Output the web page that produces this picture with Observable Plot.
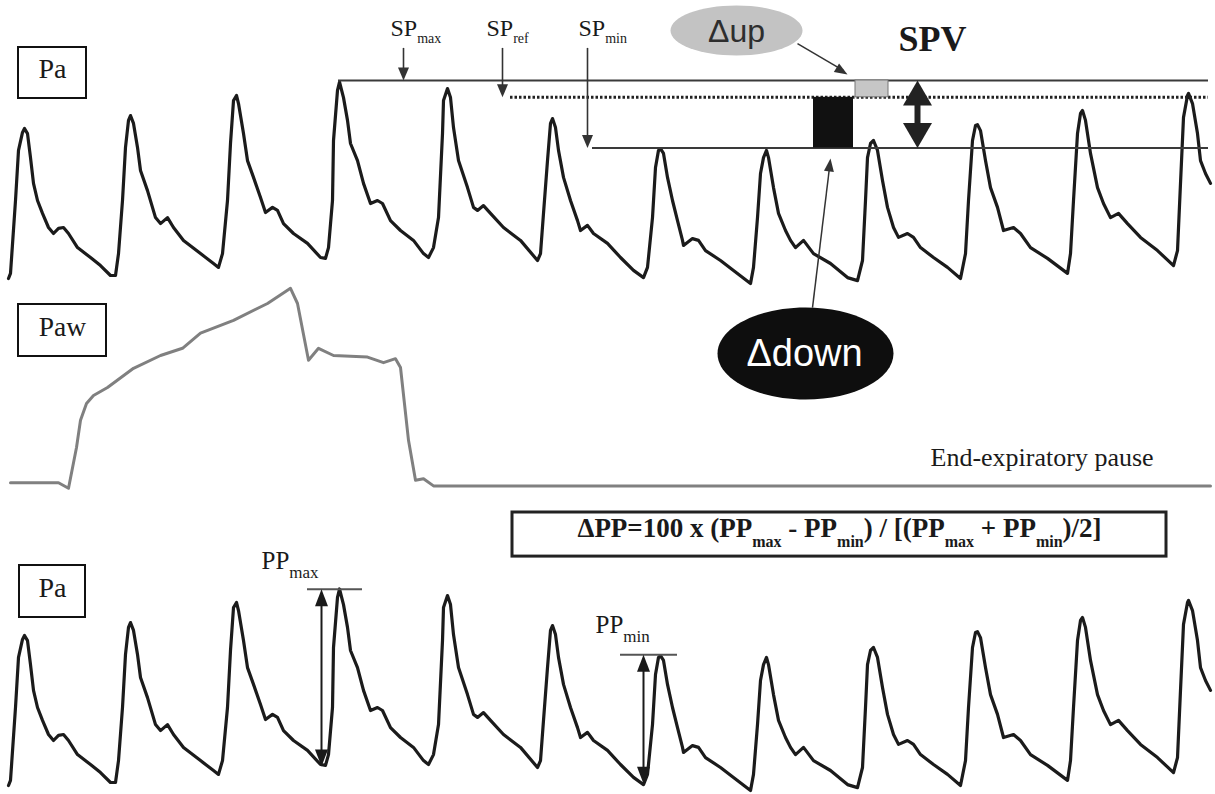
<!DOCTYPE html>
<html><head><meta charset="utf-8">
<script src="https://cdn.jsdelivr.net/npm/d3@7"></script>
<script src="https://cdn.jsdelivr.net/npm/@observablehq/plot@0.6"></script>
<style>
html,body{margin:0;padding:0;background:#fff;overflow:hidden}
#chart{position:relative;width:1215px;height:794px;background:#fff}
#chart svg{position:absolute;left:0;top:0}
</style></head><body><div id="chart"></div>
<script>
// ---------- DATA ----------
// Arterial pressure trace (time in s, pressure in mmHg), one line per beat
const paTime = [
  0.08,0.10,0.15,0.18,0.22,0.24,0.27,0.30,0.33,0.37,0.42,0.48,0.53,0.58,0.63,0.68,0.77,0.90,1.00,1.10,1.15,
  1.18,1.22,1.25,1.28,1.30,1.33,1.37,1.40,1.47,1.55,1.60,1.67,1.73,1.83,2.00,2.13,2.18,
  2.22,2.27,2.30,2.33,2.36,2.38,2.43,2.47,2.53,2.60,2.65,2.72,2.77,2.83,2.93,3.07,3.20,3.25,
  3.28,3.32,3.33,3.37,3.39,3.43,3.47,3.50,3.57,3.63,3.70,3.77,3.82,3.90,4.00,4.13,4.23,4.28,
  4.33,4.38,4.42,4.43,4.47,4.50,4.53,4.58,4.67,4.73,4.77,4.83,4.90,5.03,5.20,5.37,
  5.40,5.43,5.47,5.50,5.52,5.55,5.58,5.63,5.70,5.77,5.80,5.87,5.93,6.07,6.20,6.33,6.43,
  6.47,6.52,6.55,6.58,6.60,6.63,6.67,6.72,6.77,6.82,6.83,6.92,6.98,7.05,7.20,7.33,7.50,
  7.53,7.57,7.60,7.63,7.66,7.68,7.73,7.78,7.85,7.90,7.95,8.03,8.13,8.30,8.47,8.57,
  8.62,8.65,8.67,8.70,8.73,8.77,8.82,8.87,8.93,8.98,9.07,9.13,9.20,9.33,9.47,9.60,
  9.65,9.68,9.72,9.75,9.77,9.80,9.85,9.90,9.97,10.03,10.13,10.20,10.30,10.47,10.67,
  10.70,10.73,10.77,10.80,10.82,10.85,10.90,10.97,11.03,11.10,11.18,11.27,11.40,11.57,11.73,
  11.77,11.80,11.83,11.87,11.88,11.92,11.97,12.00,12.05,12.10
];
const paMmHg = [
  54.0,55.7,80.0,96.7,102.7,104.0,102.3,94.3,85.7,80.0,75.7,71.0,69.0,70.7,71.0,69.0,64.3,61.0,58.3,55.0,55.0,
  62.3,80.0,97.7,106.7,108.3,105.7,97.7,90.0,83.3,74.3,72.3,74.3,71.0,66.7,62.3,59.0,57.7,
  62.3,80.0,99.0,113.3,115.0,112.3,102.3,93.3,87.7,81.0,76.0,77.7,76.7,72.3,69.0,65.7,61.0,60.7,
  64.3,80.0,100.0,116.7,119.5,114.3,106.7,99.0,93.3,85.7,79.0,80.0,79.0,73.3,70.0,66.7,62.3,61.0,
  64.3,74.3,102.3,113.3,117.3,114.3,104.3,93.3,84.3,77.7,76.7,78.3,75.7,71.0,66.7,60.0,
  62.3,75.7,93.3,105.7,107.3,104.3,96.7,87.7,80.0,73.3,70.0,71.7,69.0,65.7,61.0,56.7,54.3,
  57.7,74.3,91.0,96.7,97.3,95.7,87.7,80.0,73.3,66.7,65.0,67.3,66.7,63.3,60.0,56.7,52.3,
  57.7,74.3,89.0,94.3,96.7,94.3,84.3,75.7,70.0,66.7,64.3,66.7,62.3,59.0,54.3,53.3,
  60.0,80.0,94.3,99.0,100.0,96.7,86.7,77.7,71.0,67.7,69.0,67.7,64.3,61.0,57.7,54.0,
  62.3,80.0,100.0,105.0,105.3,103.3,93.3,84.3,77.7,70.0,71.0,69.0,64.3,60.7,55.7,
  62.3,80.0,102.3,109.0,110.0,106.7,95.7,84.3,79.0,74.3,75.7,72.3,67.7,63.3,58.3,
  63.3,85.7,107.7,115.0,115.7,112.3,102.3,93.3,89.0,85.7
];
// Airway pressure trace (time in s, pressure in cmH2O)
const pawTime = [0.10,0.58,0.68,0.76,0.80,0.86,0.93,1.07,1.33,1.60,1.82,2.00,2.33,2.67,2.90,2.97,3.08,3.18,3.33,3.67,3.83,3.95,4.00,4.08,4.15,4.23,4.33,4.50,12.10];
const pawCmH2O = [5.6,5.6,4.9,10.0,13.4,15.5,16.5,17.5,19.9,21.5,22.4,24.3,25.9,28.0,29.9,28.0,20.9,22.4,21.5,21.3,20.6,21.1,20.0,10.9,5.9,6.1,5.2,5.2,5.2];
// Systolic pressure levels (mmHg)
const spNames = ["SP_{max}", "SP_{ref}", "SP_{min}"];
const spLevels = [120, 114.4, 97.5];
// Pulse pressure markers (mmHg)
const ppNames = ["PP_{max}", "PP_{min}"];
const ppPeak = [119.4, 97.6];
const ppFoot = [60.3, 54.6];
const panelNames = ["Pa", "Paw", "Pa"];
const formula = "ΔPP=100 x (PP_{max} - PP_{min}) / [(PP_{max} + PP_{min})/2]";
const pauseLabel = "End-expiratory pause";

// ---------- CHART ----------
const W = 1215, H = 794;
const serif = "'Liberation Serif','Times New Roman',serif";
const sans = "'Liberation Sans',Arial,sans-serif";
const xOpt = {domain: [0, 12.15], range: [0, W], axis: null};
const pa = paTime.map((t, i) => ({t, p: paMmHg[i]}));
const paw = pawTime.map((t, i) => ({t, p: pawCmH2O[i]}));
// subscript size / drop by parent font size
const subStyle = {24: [14, 7], 25: [17, 9], 27: [16, 10]};

function ellipse(rx, ry) {
  return {draw(c) {
    const kx = rx * 0.5523, ky = ry * 0.5523;
    c.moveTo(rx, 0);
    c.bezierCurveTo(rx, ky, kx, ry, 0, ry);
    c.bezierCurveTo(-kx, ry, -rx, ky, -rx, 0);
    c.bezierCurveTo(-rx, -ky, -kx, -ry, 0, -ry);
    c.bezierCurveTo(kx, -ry, rx, -ky, rx, 0);
    c.closePath();
  }};
}
function head(len, half) {
  return {draw(c) { c.moveTo(0, 0); c.lineTo(-half, len); c.lineTo(half, len); c.closePath(); }};
}
const txt = (s, x, y, o) => Plot.text([s], {x, y, text: d => d, lineAnchor: "bottom", ...o});

// Top panel: Pa with SPV construction
const topPlot = Plot.plot({
  width: W, height: H, margin: 0,
  x: xOpt, y: {domain: [120, 55], range: [80, 275], axis: null},
  marks: [
    Plot.line(pa, {x: "t", y: "p", stroke: "#1b1b1b", strokeWidth: 3.2, strokeLinejoin: "round"}),
    Plot.ruleY([spLevels[0]], {x1: 3.38, x2: 12.08, stroke: "#3a3a3a", strokeWidth: 2}),
    Plot.ruleY([spLevels[1]], {x1: 5.10, x2: 12.08, stroke: "#222", strokeWidth: 3, strokeDasharray: "2.5,2"}),
    Plot.ruleY([spLevels[2]], {x1: 5.92, x2: 12.08, stroke: "#3a3a3a", strokeWidth: 2}),
    Plot.rect([0], {x1: 8.55, x2: 8.88, y1: spLevels[1], y2: spLevels[0], fill: "#c6c6c6", stroke: "#777", strokeWidth: 1}),
    Plot.rect([0], {x1: 8.13, x2: 8.53, y1: spLevels[2], y2: spLevels[1], fill: "#111"}),
    // SP arrows
    Plot.ruleX([0, 1, 2], {x: i => [4.03, 5.02, 5.87][i], y1: 130.7, y2: i => spLevels[i] + 2, stroke: "#333", strokeWidth: 1.6}),
    Plot.dot([0, 1, 2], {x: i => [4.03, 5.02, 5.87][i], y: i => spLevels[i], symbol: head(13, 5.5), rotate: 180, fill: "#333", stroke: "none"}),
    Plot.text(spNames, {x: (d, i) => [3.90, 4.86, 5.78][i], y: 135, text: d => d, textAnchor: "start", lineAnchor: "bottom", fontFamily: serif, fontSize: 24, fill: "#1a1a1a"}),
    // SPV double arrow
    Plot.ruleX([9.17], {y1: spLevels[0] - 5, y2: spLevels[2] + 5, stroke: "#222", strokeWidth: 6}),
    Plot.dot([0], {x: 9.17, y: spLevels[0], symbol: head(25, 14.5), rotate: 0, fill: "#222", stroke: "none"}),
    Plot.dot([0], {x: 9.17, y: spLevels[2], symbol: head(25, 14.5), rotate: 180, fill: "#222", stroke: "none"}),
    txt("SPV", 8.98, 130, {textAnchor: "start", fontFamily: serif, fontWeight: "bold", fontSize: 36, fill: "#1a1a1a"}),
    // Δup
    Plot.dot([0], {x: 7.36, y: 136.67, symbol: ellipse(66, 25), fill: "#c3c3c3", stroke: "none"}),
    txt("Δup", 7.36, 132.67, {textAnchor: "middle", fontFamily: sans, fontSize: 32, fill: "#2e2e2e"}),
    Plot.link([0], {x1: 7.97, y1: 132.3, x2: 8.43, y2: 123.3, stroke: "#333", strokeWidth: 1.5}),
    Plot.dot([0], {x: 8.47, y: 122, symbol: head(13, 5), rotate: 121.8, fill: "#333", stroke: "none"}),
    // Δdown
    Plot.link([0], {x1: 8.12, y1: 44.3, x2: 8.29, y2: 91, stroke: "#333", strokeWidth: 1.5}),
    Plot.dot([0], {x: 8.30, y: 94, symbol: head(13, 5), rotate: 6.9, fill: "#333", stroke: "none"}),
    Plot.dot([0], {x: 8.05, y: 29, symbol: ellipse(88, 46), fill: "#0e0e0e", stroke: "none"}),
    txt("Δdown", 8.04, 24.67, {textAnchor: "middle", fontFamily: sans, fontSize: 38, fill: "#fff"}),
    // panel label
    Plot.rect([0], {x1: 0.18, x2: 0.86, y1: 114, y2: 131, fill: "none", stroke: "#111", strokeWidth: 2}),
    txt(panelNames[0], 0.52, 120.67, {textAnchor: "middle", fontFamily: serif, fontSize: 28, fill: "#1a1a1a"})
  ]
});

// Middle panel: Paw
const pawPlot = Plot.plot({
  width: W, height: H, margin: 0,
  x: xOpt, y: {domain: [5, 30], range: [487, 287], axis: null},
  marks: [
    Plot.line(paw, {x: "t", y: "p", stroke: "#808080", strokeWidth: 3, strokeLinejoin: "round"}),
    Plot.rect([0], {x1: 0.18, x2: 1.06, y1: 21.375, y2: 27.875, fill: "none", stroke: "#111", strokeWidth: 2}),
    txt(panelNames[1], 0.62, 24, {textAnchor: "middle", fontFamily: serif, fontSize: 27.5, fill: "#1a1a1a"}),
    txt(pauseLabel, 9.30, 7.75, {textAnchor: "start", fontFamily: serif, fontSize: 26, fill: "#1a1a1a"})
  ]
});

// Bottom panel: Pa with PPV construction
const botPlot = Plot.plot({
  width: W, height: H, margin: 0,
  x: xOpt, y: {domain: [120, 55], range: [587, 782], axis: null},
  marks: [
    Plot.line(pa, {x: "t", y: "p", stroke: "#1b1b1b", strokeWidth: 3.2, strokeLinejoin: "round"}),
    Plot.ruleY([0, 1], {y: i => ppPeak[i], x1: i => [3.07, 6.20][i], x2: i => [3.62, 6.77][i], stroke: "#555", strokeWidth: 2}),
    Plot.ruleX([0, 1], {x: i => [3.21, 6.43][i], y1: i => ppFoot[i] + 3, y2: i => ppPeak[i] - 3, stroke: "#1a1a1a", strokeWidth: 2}),
    Plot.dot([0, 1], {x: i => [3.21, 6.43][i], y: i => ppPeak[i], symbol: head(17, 6.5), rotate: 0, fill: "#1a1a1a", stroke: "none"}),
    Plot.dot([0, 1], {x: i => [3.21, 6.43][i], y: i => ppFoot[i], symbol: head(17, 6.5), rotate: 180, fill: "#1a1a1a", stroke: "none"}),
    Plot.text(ppNames, {x: (d, i) => [2.61, 5.95][i], y: (d, i) => [126.33, 105][i], text: d => d, textAnchor: "start", lineAnchor: "bottom", fontFamily: serif, fontSize: 25, fill: "#1a1a1a"}),
    Plot.rect([0], {x1: 5.12, x2: 11.66, y1: 130.3, y2: 145, fill: "#fff", stroke: "#222", strokeWidth: 3}),
    txt(formula, 8.39, 136.67, {textAnchor: "middle", fontFamily: serif, fontWeight: "bold", fontSize: 27, fill: "#1a1a1a"}),
    Plot.rect([0], {x1: 0.19, x2: 0.85, y1: 110, y2: 127.33, fill: "none", stroke: "#111", strokeWidth: 2}),
    txt(panelNames[2], 0.52, 117, {textAnchor: "middle", fontFamily: serif, fontSize: 28, fill: "#1a1a1a"})
  ]
});

function subscriptify(svg) {
  svg.querySelectorAll("text").forEach(el => {
    const s = el.textContent;
    if (!s.includes("_{")) return;
    const fs = Math.round(parseFloat(getComputedStyle(el).fontSize));
    const [sub, dy] = subStyle[fs] || [Math.round(fs * 0.6), Math.round(fs * 0.36)];
    while (el.firstChild) el.removeChild(el.firstChild);
    let down = false;
    for (const part of s.split(/(_\{[^}]*\})/)) {
      if (!part) continue;
      const ts = document.createElementNS("http://www.w3.org/2000/svg", "tspan");
      if (part.startsWith("_{")) {
        ts.textContent = part.slice(2, -1);
        ts.setAttribute("font-size", sub);
        ts.setAttribute("dy", dy);
        down = true;
      } else {
        ts.textContent = part;
        if (down) ts.setAttribute("dy", -dy);
        down = false;
      }
      el.appendChild(ts);
    }
  });
}

const chart = document.getElementById("chart");
for (const svg of [pawPlot, botPlot, topPlot]) {
  svg.style.background = "transparent";
  chart.appendChild(svg);
  subscriptify(svg);
}
</script></body></html>
